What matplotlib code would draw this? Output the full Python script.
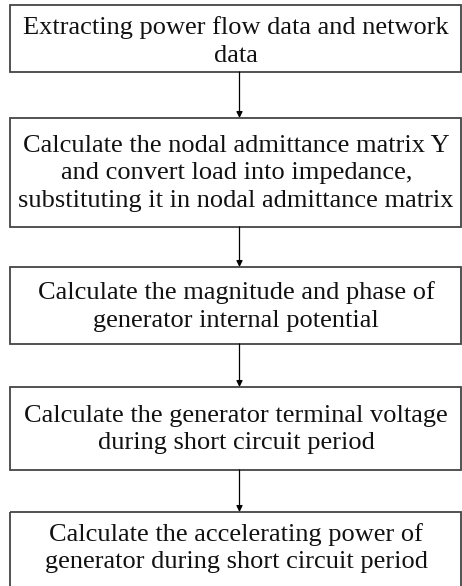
import matplotlib.pyplot as plt
from matplotlib.patches import Rectangle

steps = [
    "Extracting power flow data and network\ndata",
    "Calculate the nodal admittance matrix Y\nand convert load into impedance,\nsubstituting it in nodal admittance matrix",
    "Calculate the magnitude and phase of\ngenerator internal potential",
    "Calculate the generator terminal voltage\nduring short circuit period",
    "Calculate the accelerating power of\ngenerator during short circuit period",
]

# box extents in pixels (top, bottom)
box_top = [5, 118, 267, 387, 512]
box_bottom = [72, 227, 344, 470, 600]
box_left, box_right = 9.5, 461
arrow_x = 239.5

fig = plt.figure(figsize=(4.62, 5.86), dpi=100)
ax = fig.add_axes([0, 0, 1, 1])
ax.set_xlim(0, 462)
ax.set_ylim(586, 0)
ax.axis("off")

for i, text in enumerate(steps):
    top, bottom = box_top[i], box_bottom[i]
    ax.add_patch(Rectangle((box_left, top), box_right - box_left, bottom - top,
                           fill=False, edgecolor="#444444", linewidth=1.3))
    mid = (top + bottom) / 2 + 1 if i < len(steps) - 1 else top + 36
    if i == 0:
        mid += 2
    ax.text((box_left + box_right) / 2 + 1, mid, text, ha="center", va="center",
            family="Liberation Serif", fontsize=19, linespacing=1.35, color="#111111")
    if i < len(steps) - 1:
        ax.annotate("", xy=(arrow_x, box_top[i + 1]), xytext=(arrow_x, bottom),
                    arrowprops=dict(arrowstyle="-|>", color="black", lw=0.9,
                                    mutation_scale=9, shrinkA=0, shrinkB=0))

fig.savefig("out.png", dpi=100)
